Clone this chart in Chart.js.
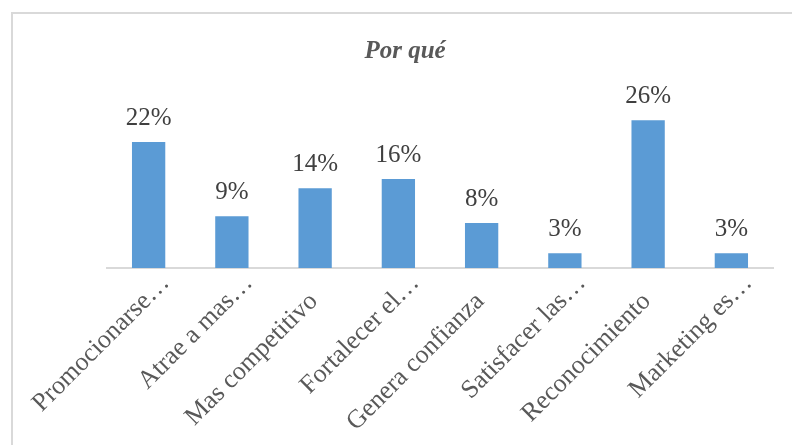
<!DOCTYPE html>
<html lang="es">
<head>
    <meta charset="UTF-8">
    <title>Por qué</title>
    <script src="https://cdn.jsdelivr.net/npm/chart.js"></script>
    <style>
        html, body { margin: 0; padding: 0; background: #fff; overflow: hidden; }
        #frame {
            position: absolute; left: 11px; top: 12px;
            width: 800px; height: 450px;
            border: 2px solid #d9d9d9;
        }
        #myChart { position: absolute; left: 12px; top: 13px; }
    </style>
</head>
<body>
    <div id="frame"></div>
    <canvas id="myChart" width="787" height="432"></canvas>
    <script>
        // datos (porcentajes)
        const categorias = [
            'Promocionarse\u2026',
            'Atrae a mas\u2026',
            'Mas competitivo',
            'Fortalecer el\u2026',
            'Genera confianza',
            'Satisfacer las\u2026',
            'Reconocimiento',
            'Marketing es\u2026'
        ];
        const valores = [22.1, 9.1, 14.0, 15.6, 7.9, 2.6, 25.9, 2.6];
        const titulo = 'Por qué';

        const serif = '"Liberation Serif", "Times New Roman", serif';

        // título y etiquetas de datos encima de cada barra
        const etiquetasBarras = {
            id: 'etiquetasBarras',
            afterDatasetsDraw(chart) {
                const ctx = chart.ctx;
                const meta = chart.getDatasetMeta(0);
                ctx.save();
                ctx.font = '25px ' + serif;
                ctx.fillStyle = '#404040';
                ctx.textAlign = 'center';
                ctx.textBaseline = 'alphabetic';
                meta.data.forEach((bar, i) => {
                    ctx.fillText(Math.round(valores[i]) + '%', bar.x, bar.y - 17);
                });
                // título centrado en el marco
                ctx.font = 'italic bold 25px ' + serif;
                ctx.fillStyle = '#595959';
                ctx.fillText(titulo, 393, 45);
                ctx.restore();
            }
        };

        const ctx = document.getElementById('myChart').getContext('2d');
        new Chart(ctx, {
            type: 'bar',
            data: {
                labels: categorias,
                datasets: [{
                    data: valores,
                    backgroundColor: '#5b9bd5',
                    barPercentage: 0.4,
                    categoryPercentage: 1
                }]
            },
            options: {
                responsive: false,
                animation: false,
                layout: { padding: { left: 95, right: 26, top: 84, bottom: 0 } },
                plugins: {
                    legend: { display: false },
                    tooltip: { enabled: false },
                    title: { display: false }
                },
                scales: {
                    x: {
                        grid: { display: false, drawTicks: false },
                        border: { display: true, color: '#d9d9d9', width: 2 },
                        ticks: {
                            color: '#595959',
                            font: { family: serif, size: 26 },
                            minRotation: 45,
                            maxRotation: 45,
                            autoSkip: false,
                            padding: 0,
                            labelOffset: 17,
                            // las etiquetas completas quedan más abajo que las recortadas
                            callback: (v, i) => categorias[i].endsWith('\u2026')
                                ? categorias[i]
                                : categorias[i] + '\u00a0\u00a0\u00a0\u00a0'
                        },
                        afterFit(scale) {
                            scale.height = 177;
                            scale.paddingLeft = 0;
                            scale.paddingRight = 0;
                        }
                    },
                    y: {
                        display: false,
                        min: 0,
                        max: 30
                    }
                }
            },
            plugins: [etiquetasBarras]
        });
    </script>
</body>
</html>
